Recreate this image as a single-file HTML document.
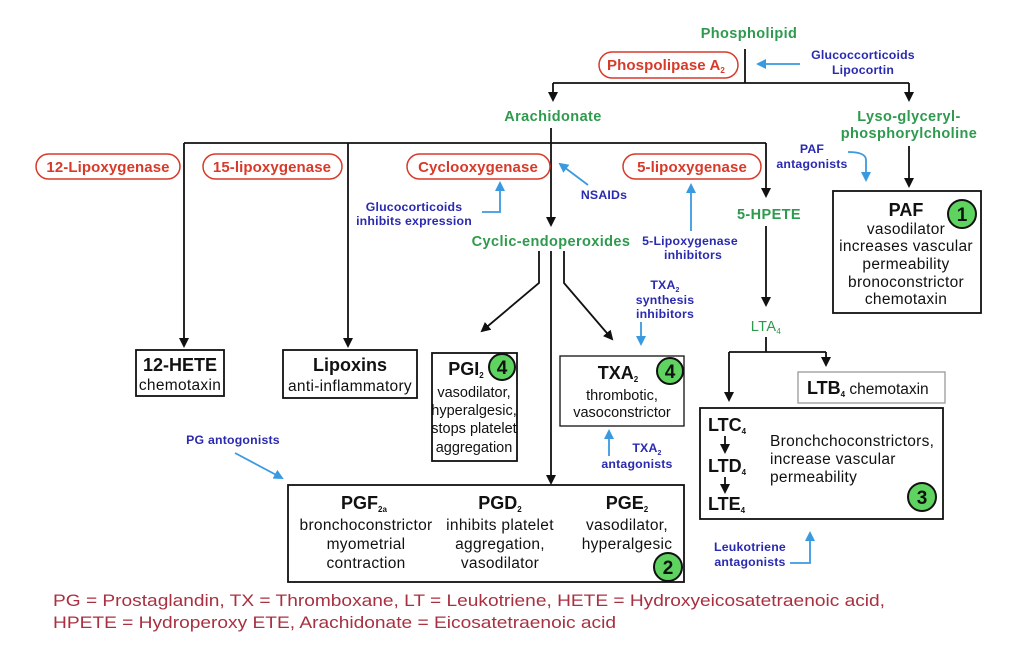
<!DOCTYPE html>
<html><head><meta charset="utf-8"><style>
html,body{margin:0;padding:0;background:#fff;}
svg{display:block;font-family:"Liberation Sans",Arial,sans-serif;}
.g{fill:#2e9a4e;font-weight:bold;font-size:14.5px;letter-spacing:0.4px;text-anchor:middle;}
.r{fill:#d83a2a;font-weight:bold;font-size:15px;letter-spacing:0.1px;text-anchor:middle;}
.b{fill:#2a2ab0;font-weight:bold;font-size:12.3px;letter-spacing:0.2px;text-anchor:middle;}
.k{fill:#111;font-size:15.5px;letter-spacing:0.3px;text-anchor:middle;}
.ks{fill:#111;font-size:14.5px;text-anchor:middle;}
.kb{fill:#111;font-size:18px;font-weight:bold;text-anchor:middle;}
.pill{fill:#fff;stroke:#d83a2a;stroke-width:1.5;}
.box{fill:#fff;stroke:#111;stroke-width:1.8;}
.ln{stroke:#111;stroke-width:1.8;fill:none;}
.bl{stroke:#3a9ae0;stroke-width:1.8;fill:none;}
.cir{fill:#5fd35f;stroke:#111;stroke-width:2;}
.num{font-size:19px;font-weight:bold;text-anchor:middle;fill:#111;}
.ft{fill:#a83040;font-size:17px;}
</style></head><body>
<svg width="1012" height="660" viewBox="0 0 1012 660">
<defs>
<marker id="a" markerWidth="10" markerHeight="10" refX="8" refY="5" orient="auto" markerUnits="userSpaceOnUse"><path d="M0,0 L10,5 L0,10 z" fill="#111"/></marker>
<marker id="ab" markerWidth="10" markerHeight="10" refX="8" refY="5" orient="auto" markerUnits="userSpaceOnUse"><path d="M0,0 L10,5 L0,10 z" fill="#3a9ae0"/></marker>
</defs>
<text class="g" x="749" y="38">Phospholipid</text>
<rect class="pill" x="599" y="52" width="139" height="26" rx="13"/>
<text class="r" x="666" y="70">Phospolipase A<tspan font-size="8" dy="3">2</tspan></text>
<line class="ln" x1="745" y1="49" x2="745" y2="83"/>
<line class="bl" x1="800" y1="64" x2="758" y2="64" marker-end="url(#ab)"/>
<text class="b" x="863" y="59">Glucoccorticoids</text>
<text class="b" x="863" y="74">Lipocortin</text>
<line class="ln" x1="553" y1="83" x2="909" y2="83"/>
<line class="ln" x1="553" y1="83" x2="553" y2="100" marker-end="url(#a)"/>
<line class="ln" x1="909" y1="83" x2="909" y2="100" marker-end="url(#a)"/>
<text class="g" x="553" y="121">Arachidonate</text>
<text class="g" x="909" y="121">Lyso-glyceryl-</text>
<text class="g" x="909" y="138">phosphorylcholine</text>
<line class="ln" x1="551" y1="128" x2="551" y2="225" marker-end="url(#a)"/>
<line class="ln" x1="184" y1="143" x2="766" y2="143"/>
<line class="ln" x1="184" y1="143" x2="184" y2="346" marker-end="url(#a)"/>
<line class="ln" x1="348" y1="143" x2="348" y2="346" marker-end="url(#a)"/>
<line class="ln" x1="766" y1="143" x2="766" y2="196" marker-end="url(#a)"/>
<rect class="pill" x="36" y="154" width="144" height="25" rx="12.5"/>
<text class="r" x="108" y="172">12-Lipoxygenase</text>
<rect class="pill" x="203" y="154" width="139" height="25" rx="12.5"/>
<text class="r" x="272" y="172">15-lipoxygenase</text>
<rect class="pill" x="407" y="154" width="143" height="25" rx="12.5"/>
<text class="r" x="478" y="172">Cyclooxygenase</text>
<rect class="pill" x="623" y="154" width="138" height="25" rx="12.5"/>
<text class="r" x="692" y="172">5-lipoxygenase</text>
<line class="bl" x1="588" y1="185" x2="560" y2="164" marker-end="url(#ab)"/>
<text class="b" x="604" y="199">NSAIDs</text>
<text class="b" x="414" y="211">Glucocorticoids</text>
<text class="b" x="414" y="225">inhibits expression</text>
<path class="bl" d="M482,212 L500,212 L500,183" marker-end="url(#ab)"/>
<line class="bl" x1="691" y1="231" x2="691" y2="185" marker-end="url(#ab)"/>
<text class="b" x="690" y="245">5-Lipoxygenase</text>
<text class="b" x="693" y="259">inhibitors</text>
<text class="g" x="769" y="219">5-HPETE</text>
<line class="ln" x1="766" y1="226" x2="766" y2="305" marker-end="url(#a)"/>
<text class="g" x="766" y="331" style="font-weight:normal">LTA<tspan font-size="8" dy="3">4</tspan></text>
<text class="g" x="551" y="246">Cyclic-endoperoxides</text>
<path class="ln" d="M539,251 L539,283 L482,331" marker-end="url(#a)"/>
<path class="ln" d="M564,251 L564,283 L612,339" marker-end="url(#a)"/>
<line class="ln" x1="551" y1="251" x2="551" y2="483" marker-end="url(#a)"/>
<text class="b" x="665" y="289">TXA<tspan font-size="7" dy="3">2</tspan></text>
<text class="b" x="665" y="304">synthesis</text>
<text class="b" x="665" y="318">inhibitors</text>
<line class="bl" x1="641" y1="322" x2="641" y2="344" marker-end="url(#ab)"/>
<text class="b" x="812" y="153">PAF</text>
<text class="b" x="812" y="168">antagonists</text>
<path class="bl" d="M848,152 Q866,152 866,160 L866,180" marker-end="url(#ab)"/>
<line class="ln" x1="909" y1="146" x2="909" y2="186" marker-end="url(#a)"/>
<rect class="box" x="833" y="191" width="148" height="122"/>
<text class="kb" x="906" y="216" font-size="19">PAF</text>
<circle class="cir" cx="962" cy="214" r="14"/><text class="num" x="962" y="221">1</text>
<text class="k" x="906" y="234">vasodilator</text>
<text class="k" x="906" y="251">increases vascular</text>
<text class="k" x="906" y="269">permeability</text>
<text class="k" x="906" y="287">bronoconstrictor</text>
<text class="k" x="906" y="304">chemotaxin</text>
<rect class="box" x="136" y="350" width="88" height="46"/>
<text class="kb" x="180" y="371">12-HETE</text>
<text class="k" x="180" y="390">chemotaxin</text>
<rect class="box" x="283" y="350" width="134" height="48"/>
<text class="kb" x="350" y="371">Lipoxins</text>
<text class="k" x="350" y="391">anti-inflammatory</text>
<rect class="box" x="432" y="353" width="85" height="108"/>
<text class="kb" x="466" y="375">PGI<tspan font-size="8" dy="3">2</tspan></text>
<circle class="cir" cx="502" cy="367" r="13"/><text class="num" x="502" y="374">4</text>
<text class="ks" x="474" y="397">vasodilator,</text>
<text class="ks" x="474" y="415">hyperalgesic,</text>
<text class="ks" x="474" y="433">stops platelet</text>
<text class="ks" x="474" y="452">aggregation</text>
<rect class="box" x="560" y="356" width="124" height="70" style="stroke-width:1.3"/>
<text class="kb" x="618" y="379">TXA<tspan font-size="8" dy="3">2</tspan></text>
<circle class="cir" cx="670" cy="371" r="13"/><text class="num" x="670" y="378">4</text>
<text class="ks" x="622" y="400">thrombotic,</text>
<text class="ks" x="622" y="417">vasoconstrictor</text>
<line class="bl" x1="609" y1="456" x2="609" y2="431" marker-end="url(#ab)"/>
<text class="b" x="647" y="452">TXA<tspan font-size="7" dy="3">2</tspan></text>
<text class="b" x="637" y="468">antagonists</text>
<text class="b" x="233" y="444">PG antogonists</text>
<line class="bl" x1="235" y1="453" x2="282" y2="478" marker-end="url(#ab)"/>
<rect class="box" x="288" y="485" width="396" height="97"/>
<text class="kb" x="364" y="509">PGF<tspan font-size="8" dy="3">2a</tspan></text>
<text class="k" x="366" y="530">bronchoconstrictor</text>
<text class="k" x="366" y="549">myometrial</text>
<text class="k" x="366" y="568">contraction</text>
<text class="kb" x="500" y="509">PGD<tspan font-size="8" dy="3">2</tspan></text>
<text class="k" x="500" y="530">inhibits platelet</text>
<text class="k" x="500" y="549">aggregation,</text>
<text class="k" x="500" y="568">vasodilator</text>
<text class="kb" x="627" y="509">PGE<tspan font-size="8" dy="3">2</tspan></text>
<text class="k" x="627" y="530">vasodilator,</text>
<text class="k" x="627" y="549">hyperalgesic</text>
<circle class="cir" cx="668" cy="567" r="14"/><text class="num" x="668" y="574">2</text>
<line class="ln" x1="766" y1="337" x2="766" y2="352"/>
<line class="ln" x1="729" y1="352" x2="826" y2="352"/>
<line class="ln" x1="729" y1="352" x2="729" y2="400" marker-end="url(#a)"/>
<line class="ln" x1="826" y1="352" x2="826" y2="365" marker-end="url(#a)"/>
<rect class="box" x="798" y="372" width="147" height="31" style="stroke:#999;stroke-width:1.3"/>
<text class="kb" x="807" y="394" style="text-anchor:start">LTB<tspan font-size="8" dy="3">4</tspan><tspan dy="-3" font-weight="normal" font-size="15.5"> chemotaxin</tspan></text>
<rect class="box" x="700" y="408" width="243" height="111"/>
<text class="kb" x="708" y="431" style="text-anchor:start">LTC<tspan font-size="8" dy="3">4</tspan></text>
<text class="kb" x="708" y="472" style="text-anchor:start">LTD<tspan font-size="8" dy="3">4</tspan></text>
<text class="kb" x="708" y="510" style="text-anchor:start">LTE<tspan font-size="8" dy="3">4</tspan></text>
<line class="ln" x1="725" y1="436" x2="725" y2="452" marker-end="url(#a)"/>
<line class="ln" x1="725" y1="477" x2="725" y2="492" marker-end="url(#a)"/>
<text class="k" x="770" y="446" style="text-anchor:start">Bronchchoconstrictors,</text>
<text class="k" x="770" y="464" style="text-anchor:start">increase vascular</text>
<text class="k" x="770" y="482" style="text-anchor:start">permeability</text>
<circle class="cir" cx="922" cy="497" r="14"/><text class="num" x="922" y="504">3</text>
<text class="b" x="750" y="551">Leukotriene</text>
<text class="b" x="750" y="566">antagonists</text>
<path class="bl" d="M790,563 L810,563 L810,533" marker-end="url(#ab)"/>
<text class="ft" x="53" y="606" textLength="832" lengthAdjust="spacingAndGlyphs">PG = Prostaglandin, TX = Thromboxane, LT = Leukotriene, HETE = Hydroxyeicosatetraenoic acid,</text>
<text class="ft" x="53" y="628" textLength="563" lengthAdjust="spacingAndGlyphs">HPETE = Hydroperoxy ETE,  Arachidonate = Eicosatetraenoic acid</text>
</svg>
</body></html>
